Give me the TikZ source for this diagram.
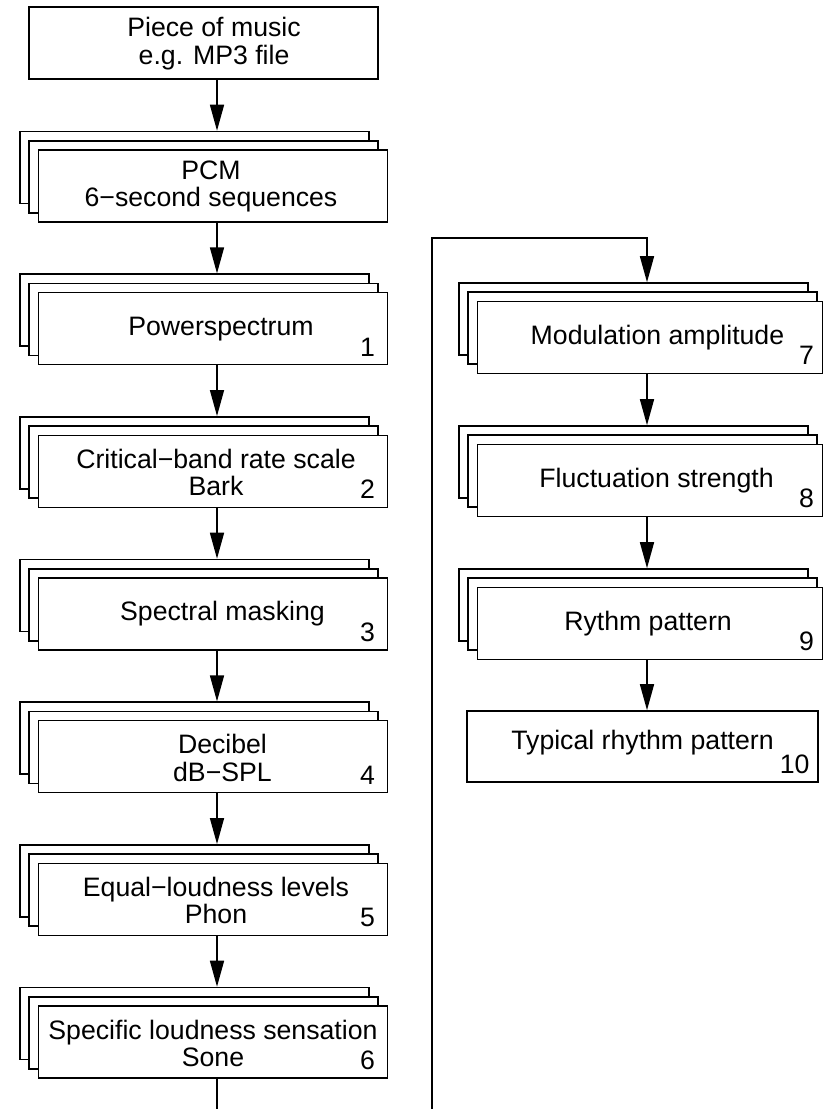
\documentclass[tikz,border=0pt]{standalone}
\usepackage{fontspec}
\setmainfont{Liberation Sans}
\usetikzlibrary{arrows.meta}
\tikzset{
  layer/.style={draw, fill=white, line width=1.15pt, inner sep=0pt, minimum height=72*0.75pt},
  lbl/.style={font=\fontsize{20}{20.5}\selectfont, align=center, inner sep=0pt},
  num/.style={font=\fontsize{20}{20.5}\selectfont, inner sep=0pt, anchor=base east},
  flow/.style={line width=1.15pt, -{Triangle[length=19.5pt,width=10.5pt]}},
  wire/.style={line width=1.15pt},
}
\newcommand\stackbox[4]{%
  \node[layer, minimum width=349*0.75pt] (#1c) at (#2,#3) {};
  \node[layer, minimum width=349*0.75pt] (#1b) at ({#2+9.25},{#3+9.25}) {};
  \node[layer, minimum width=#4*0.75pt] (#1) at ({#2+18.5+(#4-349)/2},{#3+18.5}) {};
}
\begin{document}
\begin{tikzpicture}[x=0.75pt, y=-0.75pt]
\useasboundingbox (0,0) rectangle (823,1109);
\coordinate (axL) at (217,0);
\coordinate (axR) at (647,0);

% top box
\node[layer, minimum width=349*0.75pt] (top) at (203.5,43) {};
\node[lbl] (ttop) at ([xshift=7.9pt,yshift=-0.5pt]top.center) {Piece of music\\e.g. MP3 file};

% left column
\stackbox{s0}{194.5}{167.5}{349}
\stackbox{s1}{194.5}{310.17}{349}
\stackbox{s2}{194.5}{452.83}{349}
\stackbox{s3}{194.5}{595.5}{349}
\stackbox{s4}{194.5}{738.17}{349}
\stackbox{s5}{194.5}{880.83}{349}
\stackbox{s6}{194.5}{1023.5}{349}

\node[lbl] (t0) at ([xshift=-1.5pt,yshift=-0.5pt]s0.center) {PCM\\6−second sequences};
\node[lbl] (t1) at ([xshift=6pt]s1.center) {Powerspectrum};
\node[lbl] (t2) at ([xshift=2.25pt,yshift=-1pt]s2.center) {Critical−band rate scale\\Bark};
\node[lbl] (t3) at ([xshift=7.1pt]s3.center) {Spectral masking};
\node[lbl] (t4) at ([xshift=7.1pt,yshift=-1pt]s4.center) {Decibel\\dB−SPL};
\node[lbl] (t5) at ([xshift=2.25pt,yshift=-1pt]s5.center) {Equal−loudness levels\\Phon};
\node[lbl] (t6) at ([yshift=-1pt]s6.center) {Specific loudness sensation\\Sone};

\foreach \n in {1,...,6}{
  \node[num] (n\n) at ([xshift=-9.75pt,yshift=7pt]s\n.south east) {\n};
}

% right column
\stackbox{s7}{633.5}{319}{345}
\stackbox{s8}{633.5}{462}{345}
\stackbox{s9}{633.5}{605}{345}
\node[layer, minimum width=351*0.75pt, minimum height=71*0.75pt] (s10) at (642.5,746.5) {};

\node[lbl] (t7) at ([xshift=5.6pt]s7.center) {Modulation amplitude};
\node[lbl] (t8) at ([xshift=4.9pt]s8.center) {Fluctuation strength};
\node[lbl] (t9) at ([xshift=-1.5pt]s9.center) {Rythm pattern};
\node[lbl] (t10) at ([yshift=3pt]s10.center) {Typical rhythm pattern};

\foreach \n in {7,8,9,10}{
  \node[num] (n\n) at ([xshift=-6.75pt,yshift=7pt]s\n.south east) {\n};
}

% connectors, left
\draw[flow] (top.south -| axL) -- (s0c.north -| axL);
\draw[flow] (s0.south -| axL) -- (s1c.north -| axL);
\draw[flow] (s1.south -| axL) -- (s2c.north -| axL);
\draw[flow] (s2.south -| axL) -- (s3c.north -| axL);
\draw[flow] (s3.south -| axL) -- (s4c.north -| axL);
\draw[flow] (s4.south -| axL) -- (s5c.north -| axL);
\draw[flow] (s5.south -| axL) -- (s6c.north -| axL);
\coordinate (endL) at (217,1109);
\draw[wire] (s6.south -| axL) -- (endL);

% loop to right column
\coordinate (loopA) at (432,1109);
\coordinate (loopB) at (432,238);
\draw[flow] (loopA) -- (loopB) -| (s7c.north -| axR);

% connectors, right
\draw[flow] (s7.south -| axR) -- (s8c.north -| axR);
\draw[flow] (s8.south -| axR) -- (s9c.north -| axR);
\draw[flow] (s9.south -| axR) -- (s10.north -| axR);
\end{tikzpicture}
\end{document}
